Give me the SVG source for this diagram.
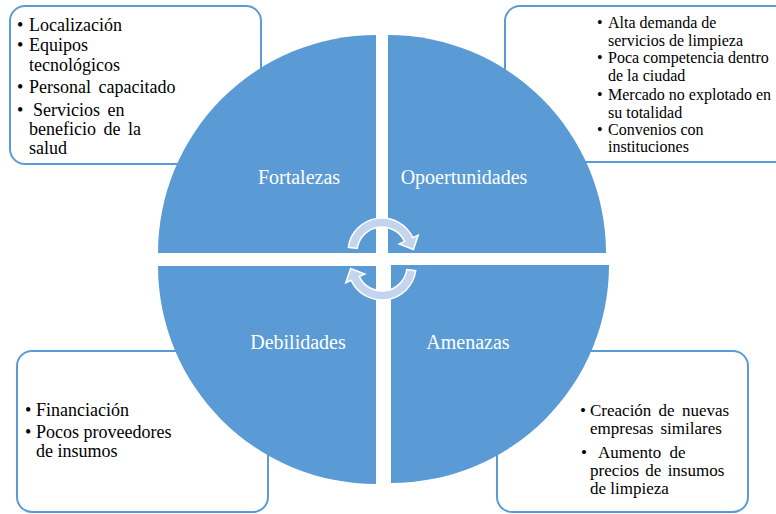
<svg xmlns="http://www.w3.org/2000/svg" width="776" height="514" viewBox="0 0 776 514">
<style>
.box{fill:#fff;stroke:#5B9BD5;stroke-width:2}
.quad{fill:#5B9BD5}
text{font-family:'Liberation Serif',serif}
.lbl{font-size:20px;fill:#fff;text-anchor:middle}
.t{font-size:18px;fill:#000}
.tb{font-size:17px;fill:#000}
.ts{font-size:16px;fill:#000}
.arr{fill:#C3D5EE;stroke:#fff;stroke-width:1.5;stroke-linejoin:miter}
</style>
<rect width="776" height="514" fill="#fff"/>
<g id="box-fortalezas">
<rect class="box" x="10" y="6" width="251" height="158" rx="15"/>
<text class="t"><tspan x="17" y="31">•</tspan><tspan x="29" y="31">Localización</tspan>
<tspan x="17" y="51">•</tspan><tspan x="29" y="51">Equipos</tspan>
<tspan x="29" y="71">tecnológicos</tspan>
<tspan x="17" y="93">•</tspan><tspan x="29" y="93" word-spacing="3">Personal capacitado</tspan>
<tspan x="17" y="116">•</tspan><tspan x="33" y="116" word-spacing="3">Servicios en</tspan>
<tspan x="29" y="135" word-spacing="3">beneficio de la</tspan>
<tspan x="29" y="154">salud</tspan></text>
</g>
<g id="box-oportunidades">
<rect class="box" x="505" y="6" width="290" height="156" rx="15"/>
<text class="ts"><tspan x="597" y="28">•</tspan><tspan x="608" y="28">Alta demanda de</tspan>
<tspan x="608" y="46">servicios de limpieza</tspan>
<tspan x="597" y="63">•</tspan><tspan x="608" y="63">Poca competencia dentro</tspan>
<tspan x="608" y="81">de la ciudad</tspan>
<tspan x="597" y="100">•</tspan><tspan x="608" y="100">Mercado no explotado en</tspan>
<tspan x="608" y="118">su totalidad</tspan>
<tspan x="597" y="135">•</tspan><tspan x="608" y="135">Convenios con</tspan>
<tspan x="608" y="152">instituciones</tspan></text>
</g>
<g id="box-debilidades">
<rect class="box" x="17" y="351" width="251" height="161" rx="15"/>
<text class="t"><tspan x="25" y="416">•</tspan><tspan x="36" y="416">Financiación</tspan>
<tspan x="25" y="438">•</tspan><tspan x="36" y="438">Pocos proveedores</tspan>
<tspan x="36" y="457">de insumos</tspan></text>
</g>
<g id="box-amenazas">
<rect class="box" x="497" y="351" width="251" height="161" rx="15"/>
<text class="tb"><tspan x="580" y="416">•</tspan><tspan x="590" y="416" word-spacing="3">Creación de nuevas</tspan>
<tspan x="590" y="434" word-spacing="3">empresas similares</tspan>
<tspan x="581" y="458">•</tspan><tspan x="598" y="458" word-spacing="4">Aumento de</tspan>
<tspan x="590" y="476" word-spacing="2">precios de insumos</tspan>
<tspan x="590" y="494">de limpieza</tspan></text>
</g>
<g id="fortalezas">
<path class="quad" d="M376,253 L158,253 A218,218 0 0 1 376,35 Z"/>
<text class="lbl" x="299" y="184">Fortalezas</text>
</g>
<g id="oportunidades">
<path class="quad" d="M388,253 L388,35 A218,218 0 0 1 606,253 Z"/>
<text class="lbl" x="464" y="184">Opoertunidades</text>
</g>
<g id="debilidades">
<path class="quad" d="M376,266 L376,484 A218,218 0 0 1 158,266 Z"/>
<text class="lbl" x="298" y="349">Debilidades</text>
</g>
<g id="amenazas">
<path class="quad" d="M391,265 L609,265 A218,218 0 0 1 391,483 Z"/>
<text class="lbl" x="468" y="349">Amenazas</text>
</g>
<g id="connectors">
<path id="arrow-top" class="arr" d="M348.33,247.27 A34,34 0 0 1 412.81,237.63 L418.25,235.1 L413.39,249.5 L399.22,243.97 L404.66,241.43 A25,25 0 0 0 357.24,248.52 Z"/>
<path id="arrow-bottom" class="arr" transform="rotate(180 382 259)" d="M348.33,247.27 A34,34 0 0 1 412.81,237.63 L418.25,235.1 L413.39,249.5 L399.22,243.97 L404.66,241.43 A25,25 0 0 0 357.24,248.52 Z"/>
</g>
</svg>
